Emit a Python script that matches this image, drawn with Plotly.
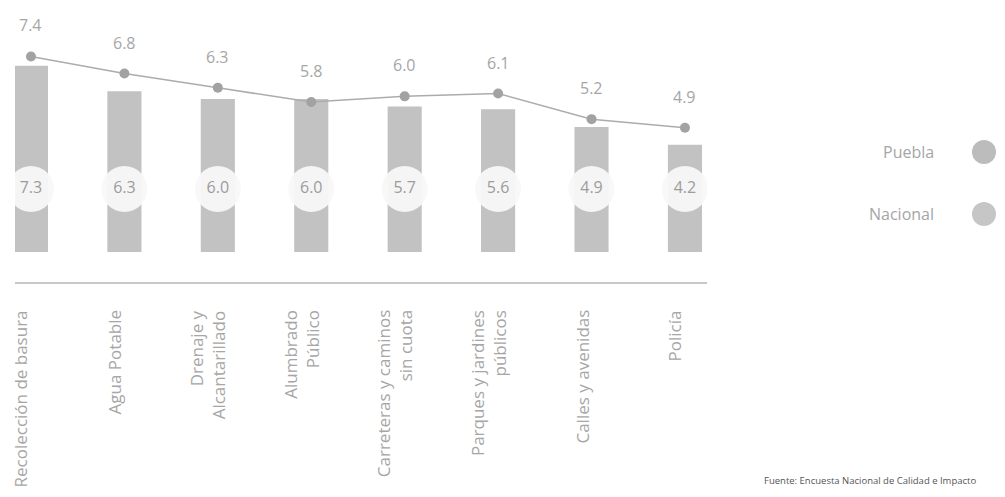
import plotly.graph_objects as go

categories = ["Recolección de basura", "Agua Potable", "Drenaje y<br>Alcantarillado",
              "Alumbrado<br>Público", "Carreteras y caminos<br>sin cuota",
              "Parques y jardines<br>públicos", "Calles y avenidas", "Policía"]
puebla = [7.3, 6.3, 6.0, 6.0, 5.7, 5.6, 4.9, 4.2]
nacional = [7.4, 6.8, 6.3, 5.8, 6.0, 6.1, 5.2, 4.9]
legend_names = ["Puebla", "Nacional"]
source_text = "Fuente: Encuesta Nacional de Calidad e Impacto"
label_level = 2.47  # vertical position of the circular Puebla labels (axis units)

idx = list(range(len(categories)))
FONT = "Open Sans"
TXT = "#a6a6a6"

OFF = 8  # page body margin
W, H = 1005 - 2 * OFF, 497 - 2 * OFF
# plot area in screen pixels
PL, PR, PT, PB = 15, 707, 10, 282
ml, mr, mt, mb = PL - OFF, W - (PR - OFF), PT - OFF, H - (PB - OFF)


def px(x):
    return (x - PL) / (PR - PL)


def py(y):
    return (PB - y) / (PB - PT)


fig = go.Figure()
fig.add_trace(go.Bar(x=idx, y=puebla, width=0.365,
                     marker=dict(color="#c2c2c2", line=dict(width=0)),
                     name="Puebla", showlegend=False, hoverinfo="y"))
fig.add_trace(go.Scatter(x=idx, y=[label_level] * len(idx), mode="markers+text",
                         marker=dict(size=46, color="rgba(248,248,248,0.94)", line=dict(width=0)),
                         text=[f"{v:.1f}" for v in puebla], textposition="middle center",
                         textfont=dict(family=FONT, size=16, color="#9c9c9c"),
                         showlegend=False, hoverinfo="skip"))
fig.add_trace(go.Scatter(x=idx, y=nacional, mode="lines+markers", yaxis="y2",
                         line=dict(color="#acacac", width=1.5),
                         marker=dict(size=10, color="#a2a2a2"),
                         name="Nacional", showlegend=False))
for i, v in zip(idx, nacional):
    fig.add_annotation(x=i, y=v, xref="x", yref="y2", text=f"{v:.1f}", showarrow=False,
                       yshift=31, font=dict(family=FONT, size=16, color=TXT))

# category labels (rotated, hanging below the axis line)
for i, c in zip(idx, categories):
    fig.add_annotation(x=i, y=0, xref="x", yref="paper", text=c, showarrow=False,
                       textangle=-90, xanchor="center", yanchor="top", align="right",
                       yshift=-26, xshift=-10,
                       font=dict(family=FONT, size=17, color=TXT))

# custom legend (text left of symbol)
for name, yy, col in [(legend_names[0], 152, "#bcbcbc"), (legend_names[1], 214, "#c6c6c6")]:
    fig.add_annotation(x=px(936), y=py(yy), xref="paper", yref="paper", text=name,
                       showarrow=False, xanchor="right", yanchor="middle",
                       font=dict(family=FONT, size=16, color=TXT))
    fig.add_shape(type="circle", xref="paper", yref="paper",
                  x0=px(972), x1=px(996), y0=py(yy + 12), y1=py(yy - 12),
                  fillcolor=col, line=dict(width=0))

fig.add_annotation(x=px(762), y=py(481), xref="paper", yref="paper",
                   text=source_text, showarrow=False, xanchor="left", yanchor="middle",
                   font=dict(family=FONT, size=9.5, color="#555555"))

fig.update_layout(
    width=W, height=H, margin=dict(l=ml, r=mr, t=mt, b=mb, autoexpand=False),
    paper_bgcolor="white", plot_bgcolor="white",
    xaxis=dict(range=[-0.171, 7.236], showticklabels=False, showgrid=False,
               zeroline=False, showline=True, linecolor="#c8c8c8", linewidth=1.5, ticks=""),
    yaxis=dict(range=[-1.18, 9.49], visible=False, showgrid=False, zeroline=False),
    yaxis2=dict(range=[-0.513, 9.03], overlaying="y", visible=False,
                showgrid=False, zeroline=False),
)
fig.write_html("out.html")
